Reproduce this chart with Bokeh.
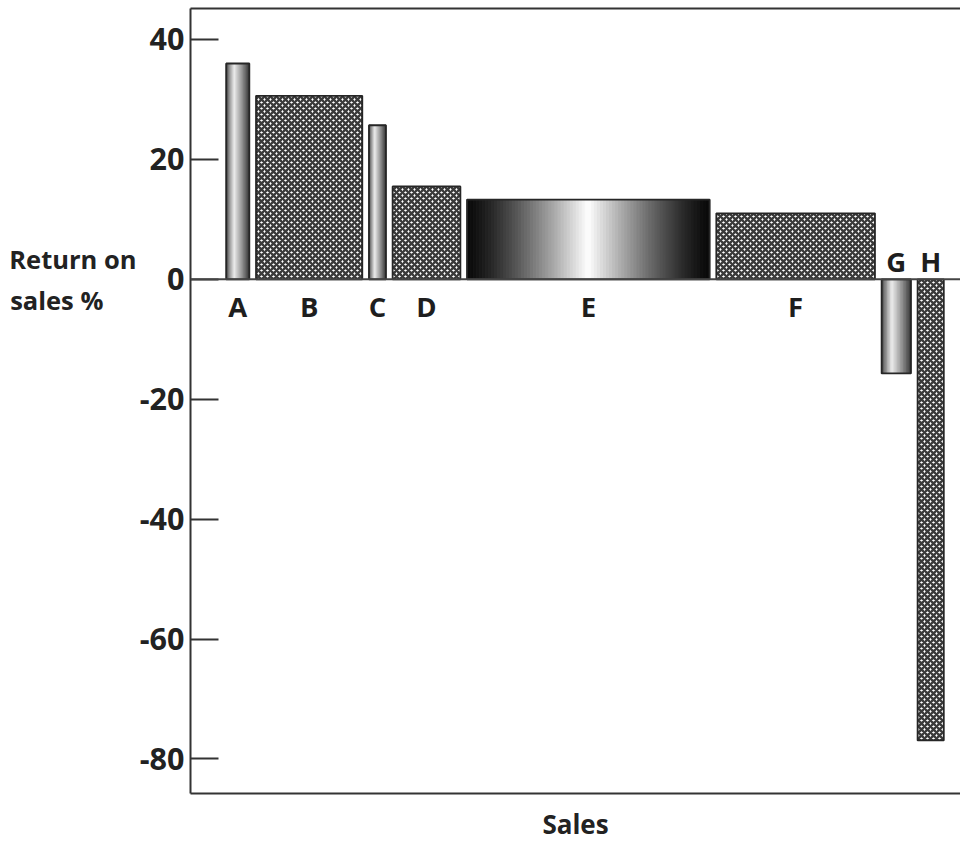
import numpy as np
from bokeh.plotting import figure
from bokeh.models import Range1d, FixedTicker, LinearAxis, Span, ColumnDataSource
from bokeh.core.properties import value
from bokeh.embed import file_html
from bokeh.resources import INLINE

# ---- data ----
categories = ["A", "B", "C", "D", "E", "F", "G", "H"]
sales = [3.0, 13.8, 2.2, 8.8, 31.5, 20.6, 3.8, 3.4]          # bar widths (share of sales)
returns = [36.0, 30.6, 25.7, 15.5, 13.3, 11.0, -15.7, -76.9]  # return on sales %
fills = ["cylinder", "hatch", "cylinder", "hatch", "drum", "hatch", "cylinder", "hatch"]
y_ticks = [-80, -60, -40, -20, 0, 20, 40]
y_title = "Return on\nsales %\u00a0\u00a0\u00a0\u00a0\u00a0"
x_title = "Sales"

# ---- layout constants ----
START = 4.64
GAP = 0.87
FONT = "Open Sans"
DARK = "#262626"
AXC = "#333333"

lefts, rights = [], []
x0 = START
for w in sales:
    lefts.append(x0)
    rights.append(x0 + w)
    x0 += w + GAP
tops = [max(r, 0) for r in returns]
bottoms = [min(r, 0) for r in returns]
centers = [(l + r) / 2 for l, r in zip(lefts, rights)]

p = figure(width=960, height=844,
           x_range=Range1d(0, 100.0), y_range=Range1d(-85.76, 45.17),
           output_backend="svg", toolbar_location=None,
           x_axis_location=None, y_axis_location=None,
           min_border_left=190, min_border_right=0, min_border_top=8, min_border_bottom=51,
           outline_line_color=None)
p.xgrid.visible = False
p.ygrid.visible = False
p.background_fill_color = "white"
p.border_fill_color = "white"


def gray(level):
    v = int(max(0, min(1, level)) * 255)
    return "#%02x%02x%02x" % (v, v, v)


def shade(t, kind):
    if kind == "drum":
        peak, lo, hi, ex = 0.5, 0.04, 1.0, 1.3
    else:
        peak, lo, hi, ex = 0.36, 0.22, 0.93, 0.9
    s = t / peak if t < peak else (1 - t) / (1 - peak)
    return gray(lo + (hi - lo) * (s ** ex))


# gradient strips for cylinder/drum bars
sl, sr, st, sb, sc = [], [], [], [], []
for l, r, t, b, kind in zip(lefts, rights, tops, bottoms, fills):
    if kind == "hatch":
        continue
    n = 80 if kind == "drum" else 20
    edges = np.linspace(l, r, n + 1)
    for i in range(n):
        tm = (i + 0.5) / n
        sl.append(edges[i]); sr.append(edges[i + 1]); st.append(t); sb.append(b)
        sc.append(shade(tm, kind))
p.quad(left="l", right="r", top="t", bottom="b", fill_color="c", line_color="c", line_width=1,
       source=ColumnDataSource(dict(l=sl, r=sr, t=st, b=sb, c=sc)))

# hatched bars
hidx = [i for i, k in enumerate(fills) if k == "hatch"]
p.quad(left=[lefts[i] for i in hidx], right=[rights[i] for i in hidx],
       top=[tops[i] for i in hidx], bottom=[bottoms[i] for i in hidx],
       fill_color="white", hatch_pattern="diagonal_cross", hatch_color="#3a3a3a",
       hatch_scale=6, hatch_weight=2.4, line_color=None)

# outlines
p.quad(left=lefts, right=rights, top=tops, bottom=bottoms,
       fill_color=None, line_color=DARK, line_width=1.8)

# zero line
p.add_layout(Span(location=0, dimension="width", line_color="#444444", line_width=2))

# category labels
LABEL_BELOW = -4.6
LABEL_ABOVE = 3.0
p.text(x=centers, y=[LABEL_BELOW if r >= 0 else LABEL_ABOVE for r in returns], text=categories,
       text_font=value(FONT), text_font_style="bold", text_font_size="27.5px",
       text_color="#1e1e1e", text_align="center", text_baseline="middle")

# axes
yax = LinearAxis(ticker=FixedTicker(ticks=y_ticks),
                 major_label_overrides={t: str(t) for t in y_ticks},
                 major_tick_in=28, major_tick_out=0,
                 major_tick_line_color=AXC, major_tick_line_width=2,
                 minor_tick_line_color=None,
                 axis_line_color=AXC, axis_line_width=2,
                 major_label_text_font=FONT, major_label_text_font_style="bold",
                 major_label_text_font_size="30.5px", major_label_text_color="#222222",
                 major_label_standoff=6)
p.add_layout(yax, "left")

# outer left "axis" carrying the horizontal y title beside the zero tick
ytitle_ax = LinearAxis(ticker=FixedTicker(ticks=[0]),
                       major_label_overrides={0: y_title},
                       major_tick_in=0, major_tick_out=0,
                       major_tick_line_color=None, minor_tick_line_color=None,
                       axis_line_color=None,
                       major_label_text_font=FONT, major_label_text_font_style="bold",
                       major_label_text_font_size="25.5px", major_label_text_color="#222222",
                       major_label_standoff=0)
p.add_layout(ytitle_ax, "left")

xax = LinearAxis(ticker=FixedTicker(ticks=[]), axis_label=x_title,
                 axis_label_text_font=FONT, axis_label_text_font_style="bold",
                 axis_label_text_font_size="26px", axis_label_text_color="#222222",
                 axis_label_standoff=12,
                 major_tick_line_color=None, minor_tick_line_color=None,
                 major_label_text_font_size="0px",
                 axis_line_color=AXC, axis_line_width=2)
p.add_layout(xax, "below")

tax = LinearAxis(ticker=FixedTicker(ticks=[]),
                 major_tick_line_color=None, minor_tick_line_color=None,
                 major_label_text_font_size="0px",
                 axis_line_color=AXC, axis_line_width=2)
p.add_layout(tax, "above")

open("out.html", "w").write(file_html(p, INLINE))
